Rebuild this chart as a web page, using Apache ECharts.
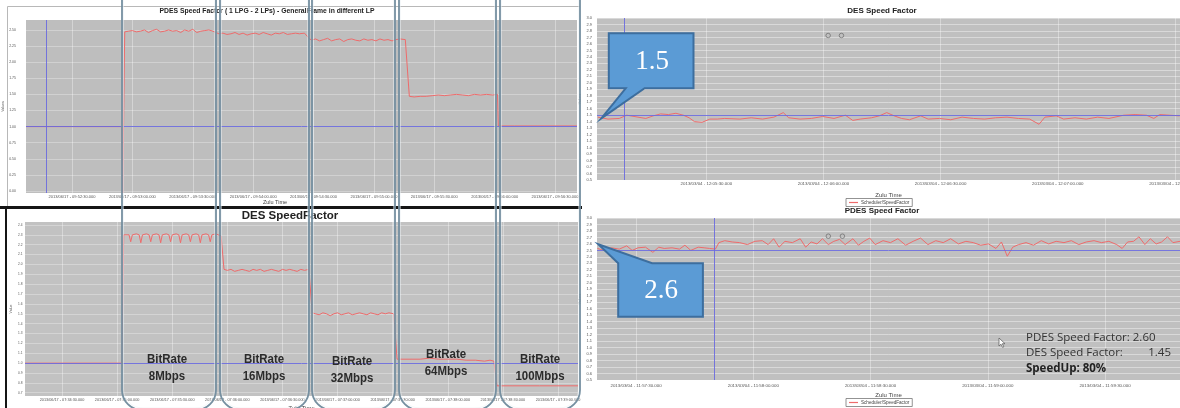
<!DOCTYPE html>
<html><head><meta charset="utf-8">
<script src="https://cdn.jsdelivr.net/npm/echarts@6/dist/echarts.min.js"></script>
<style>html,body{margin:0;padding:0;background:#fff}#c{width:1180px;height:408px}</style>
</head><body><div id="c"></div>
<script>
// ---------- Top-left: PDES Speed Factor (1 LPG - 2 LPs) ----------
const tlTime = [7.2,54.6,55.2,56.2,
58,60,62,64,66,68,70,72,74,76,78,80,82,84,86,88,90,92,94,96,98,100,
101.5,
103,105,107,109,111,113,115,117,119,121,123,125,127,129,131,133,135,137,139,141,143,145.5,
147.5,
149,151,153,155,157,159,161,163,165,167,169,171,173,175,177,179,181,183,185,187,189,191,193,195.6,
197.6,
200,203,206,209,212,215,218,221,224,227,230,233,236,239,241.4,
241.8,250,265,280.9];
const tlValue = [1.0,1.0,-0.03,2.47,
2.48,2.49,2.47,2.48,2.50,2.46,2.49,2.51,2.47,2.48,2.50,2.48,2.49,2.46,2.50,2.48,2.51,2.46,2.48,2.49,2.50,2.48,
2.46,
2.44,2.45,2.43,2.44,2.46,2.43,2.45,2.42,2.44,2.45,2.43,2.46,2.44,2.42,2.45,2.44,2.46,2.43,2.44,2.45,2.44,2.45,
2.38,
2.34,2.36,2.33,2.35,2.37,2.33,2.35,2.36,2.32,2.35,2.36,2.34,2.33,2.36,2.34,2.35,2.33,2.36,2.34,2.35,2.33,2.35,2.36,2.35,
1.47,
1.46,1.47,1.47,1.48,1.49,1.48,1.49,1.50,1.49,1.48,1.50,1.49,1.50,1.49,1.50,
1.01,1.01,1.01,1.01];
const tlXTicks = [30,60,90,120,150,180,210,240,270];
const tlXLabels = ['2013/06/17 - 09:52:30.000','2013/06/17 - 09:53:00.000','2013/06/17 - 09:53:30.000','2013/06/17 - 09:54:00.000','2013/06/17 - 09:54:30.000','2013/06/17 - 09:55:00.000','2013/06/17 - 09:55:30.000','2013/06/17 - 09:56:00.000','2013/06/17 - 09:56:30.000'];
const tlYTicks = [0,0.25,0.5,0.75,1.0,1.25,1.5,1.75,2.0,2.25,2.5];
const tlYLabels = ['0.00','0.25','0.50','0.75','1.00','1.25','1.50','1.75','2.00','2.25','2.50'];

// ---------- Bottom-left: DES SpeedFactor ----------
const blTime = [9.9,62.6,63.6,
64.5,66.5,67.4,68.3,70.5,72.0,72.9,73.8,76.0,77.4,78.3,79.2,81.4,82.8,83.7,84.6,86.8,88.2,89.1,90.0,92.2,93.6,94.5,95.4,97.6,99.0,99.9,100.8,103.0,104.4,105.3,106.2,108.4,109.8,110.7,111.6,113.8,115.0,116.6,
118.2,
120,122,124,126,128,130,132,134,136,138,140,142,144,146,148,150,152,154,156,158,160,162,164.4,
166.2,
168,170,172,174,176,178,180,182,184,186,188,190,192,194,196,198,200,202,204,206,208,210.6,
212.4,
215,220,225,230,235,240,245,250,255,260,263,265.1,
266.8,275,290,310.9];
const blValue = [1.0,1.0,2.30,
2.31,2.30,2.23,2.30,2.31,2.30,2.22,2.30,2.31,2.30,2.23,2.30,2.31,2.30,2.22,2.30,2.31,2.30,2.23,2.30,2.31,2.30,2.22,2.30,2.31,2.30,2.23,2.30,2.31,2.30,2.22,2.30,2.31,2.30,2.23,2.30,2.31,2.30,2.29,
1.95,
1.94,1.95,1.93,1.94,1.95,1.94,1.93,1.95,1.94,1.95,1.93,1.94,1.95,1.94,1.93,1.95,1.94,1.95,1.94,1.93,1.95,1.94,1.95,
1.51,
1.50,1.49,1.51,1.50,1.48,1.50,1.51,1.49,1.50,1.51,1.49,1.50,1.51,1.50,1.49,1.51,1.50,1.49,1.51,1.50,1.51,1.50,
1.04,
1.04,1.04,1.04,1.05,1.04,1.04,1.04,1.03,1.03,1.02,1.03,1.02,
0.77,0.77,0.77,0.77];
const blXTicks = [30,60,90,120,150,180,210,240,270,300];
const blXLabels = ['2013/06/17 - 07:34:30.000','2013/06/17 - 07:35:00.000','2013/06/17 - 07:35:30.000','2013/06/17 - 07:36:00.000','2013/06/17 - 07:36:30.000','2013/06/17 - 07:37:00.000','2013/06/17 - 07:37:30.000','2013/06/17 - 07:38:00.000','2013/06/17 - 07:38:30.000','2013/06/17 - 07:39:00.000'];
const blYTicks = [0.7,0.8,0.9,1.0,1.1,1.2,1.3,1.4,1.5,1.6,1.7,1.8,1.9,2.0,2.1,2.2,2.3,2.4];
const blYLabels = ['0.7','0.8','0.9','1.0','1.1','1.2','1.3','1.4','1.5','1.6','1.7','1.8','1.9','2.0','2.1','2.2','2.3','2.4'];

// ---------- Top-right: DES Speed Factor ----------
const trTime = [302.2,304.8,307.7,309.6,312.5,314.5,316.4,318.3,320.3,322.2,324.1,325.6,327.0,328.9,330.9,332.8,334.7,338.6,341.5,344.4,347.3,349.7,351.1,354.0,356.9,359.8,362.7,365.6,367.5,369.4,372.3,374.3,376.2,378.1,380.0,382.0,384.9,386.8,389.7,392.6,395.5,398.4,401.3,404.1,407.0,409.9,412.8,415.2,416.7,419.6,421.5,424.4,427.3,430.2,433.1,436.9,439.8,442.7,444.6,446.1,448.5,451.2];
const trValue = [1.47,1.44,1.45,1.50,1.47,1.45,1.49,1.52,1.51,1.53,1.50,1.46,1.40,1.39,1.44,1.44,1.45,1.44,1.46,1.44,1.47,1.54,1.46,1.44,1.45,1.48,1.45,1.50,1.42,1.44,1.46,1.49,1.54,1.49,1.45,1.43,1.49,1.44,1.45,1.43,1.47,1.45,1.44,1.46,1.47,1.45,1.44,1.36,1.47,1.49,1.44,1.46,1.44,1.47,1.45,1.50,1.51,1.50,1.45,1.51,1.50,1.49];
const trMarkTime = [361.2,364.6];
const trMarkValue = [2.73,2.73];
const trXTicks = [330,360,390,420,450];
const trXLabels = ['2013/03/04 - 12:05:30.000','2013/03/04 - 12:06:00.000','2013/03/04 - 12:06:30.000','2013/03/04 - 12:07:00.000','2013/03/04 - 12:07:30.000'];

// ---------- Bottom-right: PDES Speed Factor ----------
const brTime = [440.1,441.8,443.7,445.7,447.6,449.0,450.5,452.4,454.3,455.8,457.2,459.2,461.1,462.5,464.0,465.9,467.4,468.8,470.3,
471.2,472.7,474.6,476.5,478.5,480.4,482.3,483.8,485.2,486.6,488.1,490.0,492.0,493.4,494.8,496.3,497.7,499.2,500.6,502.1,503.5,505.5,506.9,508.3,509.8,511.2,513.2,515.1,517.0,519.0,520.9,522.8,524.7,526.7,528.6,530.5,532.5,534.4,536.3,538.2,540.2,542.1,543.5,545.0,546.4,547.9,549.8,551.7,553.7,555.6,557.5,559.5,561.4,563.3,565.2,567.2,569.1,571.0,573.0,574.4,575.8,577.3,578.7,580.2,581.6,583.1,584.5,586.0,587.4,589.2];
const brValue = [2.53,2.50,2.54,2.52,2.57,2.50,2.54,2.55,2.47,2.55,2.53,2.54,2.52,2.58,2.50,2.55,2.54,2.53,2.52,
2.62,2.65,2.63,2.62,2.59,2.64,2.65,2.59,2.68,2.55,2.64,2.62,2.68,2.55,2.63,2.60,2.68,2.59,2.64,2.67,2.59,2.68,2.58,2.64,2.69,2.59,2.65,2.62,2.68,2.58,2.64,2.69,2.59,2.65,2.62,2.68,2.60,2.64,2.62,2.58,2.60,2.53,2.63,2.41,2.55,2.59,2.62,2.58,2.65,2.60,2.64,2.62,2.65,2.59,2.63,2.65,2.62,2.64,2.59,2.53,2.63,2.64,2.71,2.59,2.68,2.60,2.63,2.71,2.62,2.64];
const brMarkTime = [499.2,502.8];
const brMarkValue = [2.72,2.72];
const brXTicks = [450,480,510,540,570];
const brXLabels = ['2013/03/04 - 11:57:30.000','2013/03/04 - 11:58:00.000','2013/03/04 - 11:58:30.000','2013/03/04 - 11:59:00.000','2013/03/04 - 11:59:30.000'];

const rYTicks = [0.5,0.6,0.7,0.8,0.9,1.0,1.1,1.2,1.3,1.4,1.5,1.6,1.7,1.8,1.9,2.0,2.1,2.2,2.3,2.4,2.5,2.6,2.7,2.8,2.9,3.0];
const rYLabels = ['0.5','0.6','0.7','0.8','0.9','1.0','1.1','1.2','1.3','1.4','1.5','1.6','1.7','1.8','1.9','2.0','2.1','2.2','2.3','2.4','2.5','2.6','2.7','2.8','2.9','3.0'];

// reference (blue) lines: horizontal level per chart, vertical time per chart
const refLevel = [1.0, 1.0, 1.5, 2.5];
const refTime = [17.1, null, 308.9, 470.0];

const bitRateTop = ['BitRate','BitRate','BitRate','BitRate','BitRate'];
const bitRateBottom = ['8Mbps','16Mbps','32Mbps','64Mbps','100Mbps'];

// ---------- build ----------
const FONT = '"Liberation Sans", Arial, sans-serif';
const RED = '#ee6b6b';
const BLUE = '#6a6ade';
function pairs(t, v) { return t.map((x, i) => [x, v[i]]); }
function lookup(ticks, labels) {
  return function (val) {
    const i = ticks.findIndex(t => Math.abs(t - val) < 1e-6);
    return i >= 0 ? labels[i] : '';
  };
}
function xAx(gi, min, max, ticks, labels, fs, margin, name, gap) {
  return {
    type: 'value', gridIndex: gi, min: min, max: max,
    name: name || '', nameLocation: 'middle', nameGap: gap || 10,
    nameTextStyle: { fontSize: 6, color: '#444', fontFamily: FONT },
    axisLine: { show: false }, axisTick: { show: false, customValues: ticks },
    axisLabel: { customValues: ticks, formatter: lookup(ticks, labels), fontSize: fs, color: '#555', margin: margin, fontFamily: FONT, hideOverlap: false },
    splitLine: { show: true, lineStyle: { color: 'rgba(255,255,255,0.35)', width: 1 } }
  };
}
function yAx(gi, min, max, ticks, labels, fs, margin, name, gap, splitColor) {
  return {
    type: 'value', gridIndex: gi, min: min, max: max,
    name: name, nameLocation: 'middle', nameGap: gap, nameRotate: 90,
    nameTextStyle: { fontSize: 3.6, color: '#555', fontFamily: FONT },
    axisLine: { show: false }, axisTick: { show: false, customValues: ticks },
    axisLabel: { customValues: ticks, formatter: lookup(ticks, labels), fontSize: fs, color: '#555', margin: margin, fontFamily: FONT },
    splitLine: { show: true, lineStyle: { color: splitColor, width: 1 } }
  };
}
function refLines(i) {
  const d = [{ yAxis: refLevel[i] }];
  if (refTime[i] !== null) d.push({ xAxis: refTime[i] });
  return { silent: true, symbol: 'none', label: { show: false }, lineStyle: { color: BLUE, width: 1, type: 'solid', opacity: 0.9 }, data: d };
}
function lineSeries(name, i, t, v) {
  return { type: 'line', name: name, xAxisIndex: i, yAxisIndex: i, data: pairs(t, v), showSymbol: false, symbol: 'none',
    lineStyle: { color: RED, width: 1 }, itemStyle: { color: RED }, markLine: refLines(i), z: 3 };
}

const graphics = [];
// left frames
graphics.push({ type: 'polyline', shape: { points: [[7.5, 206], [7.5, 6.5], [580, 6.5]] }, style: { fill: 'none', stroke: '#b8b8b8', lineWidth: 1 }, z: 50 });
graphics.push({ type: 'rect', shape: { x: 0, y: 206, width: 582, height: 3 }, style: { fill: '#151515' }, z: 60 });
graphics.push({ type: 'rect', shape: { x: 5, y: 206, width: 2, height: 202 }, style: { fill: '#151515' }, z: 60 });
// titles
function txt(x, y, s, font, color, extra) {
  return Object.assign({ type: 'text', x: x, y: y, z: 70,
    style: { text: s, font: font, fill: color, align: 'center', verticalAlign: 'middle', textAlign: 'center', textVerticalAlign: 'middle' } }, extra || {});
}
graphics.push(txt(267, 11, 'PDES Speed Factor ( 1 LPG - 2 LPs) - GeneralFrame in different LP', 'bold 6.8px ' + FONT, '#222'));
graphics.push(txt(290, 216, 'DES SpeedFactor', 'bold 11.5px ' + FONT, '#222'));
graphics.push(txt(882, 11, 'DES Speed Factor', 'bold 8px ' + FONT, '#222'));
graphics.push(txt(882, 211, 'PDES Speed Factor', 'bold 8px ' + FONT, '#222'));
graphics.push(txt(275, 202.5, 'Zulu Time', '5.5px ' + FONT, '#444'));
// BitRate labels
const brX = [167, 264, 352, 446, 540];
const brY = [359, 359, 361, 354, 359];
for (let i = 0; i < 5; i++) {
  graphics.push(txt(brX[i], brY[i], bitRateTop[i], 'bold 13.5px ' + FONT, '#2b2b2b', { scaleX: 0.85, z: 80 }));
  graphics.push(txt(brX[i], brY[i] + 17, bitRateBottom[i], 'bold 13.5px ' + FONT, '#2b2b2b', { scaleX: 0.85, z: 80 }));
}
// pills
const pillL = [122, 220, 312, 399, 500];
const pillR = [216, 309, 395, 496, 580];
for (let i = 0; i < 5; i++) {
  graphics.push({ type: 'rect', z: 90, shape: { x: pillL[i], y: -20, width: pillR[i] - pillL[i], height: 430, r: 20 },
    style: { fill: 'none', stroke: '#7690a1', lineWidth: 1.8 } });
  graphics.push({ type: 'rect', z: 89, shape: { x: pillL[i] + 1.5, y: -20, width: pillR[i] - pillL[i] - 3, height: 428, r: 19 },
    style: { fill: 'none', stroke: 'rgba(235,242,246,0.5)', lineWidth: 1 } });
}
// callouts
graphics.push({ type: 'polygon', z: 95, shape: { points: [[608.8,33.3],[693.5,33.3],[693.5,88.3],[644.6,88.3],[601.3,118.3],[625.7,88.3],[608.8,88.3]] },
  style: { fill: '#5b9bd5', stroke: '#3d6e9e', lineWidth: 2 } });
graphics.push(txt(652, 62, '1.5', '27px "Liberation Serif", "DejaVu Serif", serif', '#ffffff', { z: 96 }));
graphics.push({ type: 'polygon', z: 95, shape: { points: [[618.2,263.3],[598.3,244.3],[652.1,263.3],[702.9,263.3],[702.9,316.7],[618.2,316.7]] },
  style: { fill: '#5b9bd5', stroke: '#3d6e9e', lineWidth: 2 } });
graphics.push(txt(661, 291, '2.6', '27px "Liberation Serif", "DejaVu Serif", serif', '#ffffff', { z: 96 }));
// annotation text
function ltxt(x, y, s, font, color) {
  return { type: 'text', x: x, y: y, z: 70, style: { text: s, font: font, fill: color, align: 'left', verticalAlign: 'middle', textAlign: 'left', textVerticalAlign: 'middle' } };
}
const ANN = '11.5px "Open Sans", "Noto Sans", sans-serif';
graphics.push(ltxt(1026, 337.5, 'PDES Speed Factor: 2.60', ANN, '#333'));
graphics.push(ltxt(1026, 353, 'DES Speed Factor:', ANN, '#333'));
graphics.push({ type: 'text', x: 1171, y: 353, z: 70, style: { text: '1.45', font: ANN, fill: '#333', align: 'right', verticalAlign: 'middle', textAlign: 'right', textVerticalAlign: 'middle' } });
graphics.push(ltxt(1026, 369, 'SpeedUp: 80%', 'bold ' + ANN, '#222'));
// cursor
graphics.push({ type: 'polygon', z: 96, shape: { points: [[999,338],[999,346],[1001,344.2],[1002.6,347.4],[1003.8,346.8],[1002.3,343.7],[1005,343.7]] },
  style: { fill: '#ffffff', stroke: '#555', lineWidth: 0.7 } });

const option = {
  animation: false,
  backgroundColor: '#ffffff',
  grid: [
    { left: 26, top: 20, width: 551, height: 173, show: true, backgroundColor: '#bebebe', borderWidth: 0, outerBoundsMode: 'none' },
    { left: 25, top: 222, width: 553, height: 174, show: true, backgroundColor: '#c2c2c2', borderWidth: 0, outerBoundsMode: 'none' },
    { left: 597, top: 18, width: 583, height: 162, show: true, backgroundColor: '#c0c0c0', borderWidth: 0, outerBoundsMode: 'none' },
    { left: 597, top: 218, width: 583, height: 162, show: true, backgroundColor: '#c0c0c0', borderWidth: 0, outerBoundsMode: 'none' }
  ],
  xAxis: [
    xAx(0, 7.15, 280.9, tlXTicks, tlXLabels, 4, 2),
    xAx(1, 9.86, 310.9, blXTicks, blXLabels, 3.8, 2, 'Zulu Time', 9),
    xAx(2, 302, 451.3, trXTicks, trXLabels, 4.4, 2, 'Zulu Time', 12),
    xAx(3, 440, 589.2, brXTicks, brXLabels, 4.4, 4, 'Zulu Time', 12)
  ],
  yAxis: [
    yAx(0, -0.03, 2.654, tlYTicks, tlYLabels, 3.5, 10, 'Values', 16, 'rgba(255,255,255,0.3)'),
    yAx(1, 0.667, 2.43, blYTicks, blYLabels, 3.2, 2.5, 'Value', 12, 'rgba(255,255,255,0.3)'),
    yAx(2, 0.5, 3.0, rYTicks, rYLabels, 4, 5, 'Values', 15, 'rgba(255,255,255,0.4)'),
    yAx(3, 0.5, 3.0, rYTicks, rYLabels, 4, 5, 'Values', 15, 'rgba(255,255,255,0.4)')
  ],
  legend: [
    { data: ['Scheduler/SpeedFactor'], left: 846, top: 198.5, selectedMode: false, icon: 'rect', itemWidth: 9, itemHeight: 1.2, itemGap: 2,
      padding: [1.5, 3], borderColor: '#777', borderWidth: 0.8, textStyle: { fontSize: 4.6, color: '#444', fontFamily: FONT, padding: [0, 0, 0, -2] } },
    { data: ['Scheduler/SpeedFactor'], left: 846, top: 398.5, selectedMode: false, icon: 'rect', itemWidth: 9, itemHeight: 1.2, itemGap: 2,
      padding: [1.5, 3], borderColor: '#777', borderWidth: 0.8, textStyle: { fontSize: 4.6, color: '#444', fontFamily: FONT, padding: [0, 0, 0, -2] } }
  ],
  series: [
    lineSeries('GeneralFrame', 0, tlTime, tlValue),
    lineSeries('SpeedFactor', 1, blTime, blValue),
    lineSeries('Scheduler/SpeedFactor', 2, trTime, trValue),
    lineSeries('Scheduler/SpeedFactor', 3, brTime, brValue),
    { type: 'scatter', name: 'marks-top', xAxisIndex: 2, yAxisIndex: 2, data: pairs(trMarkTime, trMarkValue), symbol: 'circle', symbolSize: 4.5,
      itemStyle: { color: 'rgba(0,0,0,0)', borderColor: '#5f5f5f', borderWidth: 0.8 }, silent: true },
    { type: 'scatter', name: 'marks-bottom', xAxisIndex: 3, yAxisIndex: 3, data: pairs(brMarkTime, brMarkValue), symbol: 'circle', symbolSize: 4.5,
      itemStyle: { color: 'rgba(0,0,0,0)', borderColor: '#5f5f5f', borderWidth: 0.8 }, silent: true }
  ],
  graphic: graphics
};
const chart = echarts.init(document.getElementById('c'), null, { renderer: 'canvas' });
chart.setOption(option);
</script></body></html>
